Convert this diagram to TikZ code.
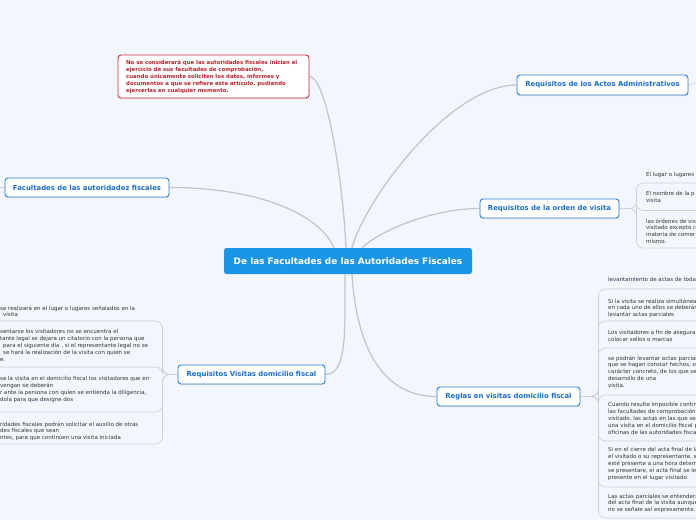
\documentclass[tikz,border=0pt]{standalone}
\usepackage{fontspec}
\setmainfont{DejaVu Sans}
\usetikzlibrary{shadows}
\definecolor{bgc}{HTML}{F4F6FD}
\definecolor{mainblue}{HTML}{1B96E6}
\definecolor{bblue}{HTML}{2A7FD6}
\definecolor{tblue}{HTML}{1A6ECC}
\definecolor{rred}{HTML}{C8323C}
\definecolor{tred}{HTML}{B8242C}
\definecolor{conn}{HTML}{C4C6CA}
\definecolor{subc}{HTML}{CDD1D9}
\definecolor{txt}{HTML}{333333}
\pgfdeclarelayer{back}
\pgfdeclarelayer{links}
\pgfsetlayers{back,links,main}
\tikzset{
  centerbox/.style={fill=mainblue, rounded corners=2.5pt, text=white, font=\fontsize{8.9}{10}\selectfont\bfseries, inner sep=0pt, minimum width=248pt, minimum height=26pt},
  mainbox/.style={draw=bblue, line width=0.9pt, fill=white, rounded corners=3pt, text=tblue, font=\fontsize{6.9}{8}\selectfont\bfseries, inner sep=0pt, drop shadow={shadow xshift=0.3pt, shadow yshift=-1pt, opacity=0.2}},
  redbox/.style={draw=rred, line width=0.9pt, fill=white, rounded corners=3pt, inner sep=0pt, drop shadow={shadow xshift=0.3pt, shadow yshift=-1pt, opacity=0.2}},
  redtext/.style={text=tred, font=\fontsize{5.4}{7}\selectfont\bfseries, align=left, inner sep=0pt},
  ctext/.style={text=txt, font=\fontsize{5.5}{6.8}\selectfont, align=left, inner sep=0pt},
  mainconn/.style={draw=conn, line width=1.3pt},
  subconn/.style={draw=subc, line width=0.7pt, rounded corners=7pt}
}
\begin{document}
\begin{tikzpicture}[x=1pt,y=-1pt]
\useasboundingbox (0,0) rectangle (696,520);
\begin{pgfonlayer}{back}
\fill[bgc] (0,0) rectangle (696,520);
\end{pgfonlayer}
\clip (0,0) rectangle (696,520);

% main nodes
\node[centerbox] (center) at (348,261) {De las Facultades de las Autoridades Fiscales};
\node[mainbox, minimum width=164pt, minimum height=19pt] (facultades) at (87,187.5) {Facultades de las autoridadez fiscales};
\node[mainbox, minimum width=171pt, minimum height=20pt] (actos) at (602.5,85) {Requisitos de los Actos Administrativos};
\node[mainbox, minimum width=139pt, minimum height=19pt] (orden) at (549.5,208.5) {Requisitos de la orden de visita};
\node[mainbox, minimum width=147pt, minimum height=19pt] (visitas) at (251.5,374.5) {Requisitos Visitas domicilio fiscal};
\node[mainbox, minimum width=143pt, minimum height=19pt] (reglas) at (508.5,396.5) {Reglas en visitas domicilio fiscal};
\node[redbox, minimum width=191pt, minimum height=43pt] (red) at (213.5,76.5) {};
\node[redtext, anchor=west] (redt) at (126,77) {No se considerará que las autoridades fiscales inician el\\ejercicio de sus facultades de comprobación,\\cuando únicamente soliciten los datos, informes y\\documentos a que se refiere este artículo, pudiendo\\ejercerlas en cualquier momento.};

% left children of "Requisitos Visitas domicilio fiscal"
\node[ctext, anchor=north west] (c1t) at (0,305.5) {se realizará en el lugar o lugares señalados en la\\\hspace*{3pt}visita};
\node[ctext, anchor=north west] (c2t) at (0,329.5) {sentarse los visitadores no se encuentra el\\tante legal se dejara un citatorio con la persona que\\\hspace*{3pt}para el siguiente día , si el representante legal no se\\\hspace*{3pt}se hará la realización de la visita con quien se\\e.};
\node[ctext, anchor=north west] (c3t) at (0,376.5) {se la visita en el domicilio fiscal los visitadores que en\\vengan se deberán\\r ante la persona con quien se entienda la diligencia,\\dola para que designe dos};
\node[ctext, anchor=north west] (c4t) at (0,421.5) {ridades fiscales podrán solicitar el auxilio de otras\\des fiscales que sean\\ntes, para que continúen una visita iniciada};
\coordinate (c1u) at (-10,321);
\coordinate (c2u) at (-10,367);
\coordinate (c3u) at (-10,412);
\coordinate (c4u) at (-10,444);

% children of "Requisitos de la orden de visita"
\node[ctext, anchor=north west] (o1t) at (646,172.5) {El lugar o lugares};
\node[ctext, anchor=north west] (o2t) at (646,191.5) {El nombre de la p\\visita};
\node[ctext, anchor=north west] (o3t) at (646,218.5) {las órdenes de vis\\visitado excepto c\\materia de comer\\mismo.};
\coordinate (o1u) at (710,183);
\coordinate (o2u) at (710,210.5);
\coordinate (o3u) at (710,248);

% children of "Reglas en visitas domicilio fiscal"
\node[ctext, anchor=north west] (r1t) at (608,277.5) {levantamiento de actas de toda};
\node[ctext, anchor=north west] (r2t) at (608,298.5) {Si la visita se realiza simultánea\\en cada uno de ellos se deberán\\levantar actas parciales};
\node[ctext, anchor=north west] (r3t) at (608,330.5) {Los visitadores a fin de asegurar\\colocar sellos o marcas};
\node[ctext, anchor=north west] (r4t) at (608,355.5) {se podrán levantar actas parcial\\que se hagan constar hechos, o\\carácter concreto, de los que se\\desarrollo de una\\visita.};
\node[ctext, anchor=north west] (r5t) at (608,402.5) {Cuando resulte imposible contin\\las facultades de comprobación\\visitado, las actas en las que se\\una visita en el domicilio fiscal p\\oficinas de las autoridades fiscal};
\node[ctext, anchor=north west] (r6t) at (608,447.5) {Si en el cierre del acta final de la\\el visitado o su representante, s\\esté presente a una hora determ\\se presentare, el acta final se le\\presente en el lugar visitado};
\node[ctext, anchor=north west] (r7t) at (608,493.5) {Las actas parciales se entenderá\\del acta final de la visita aunque\\no se señale así expresamente.};
\coordinate (r1u) at (710,289);
\coordinate (r2u) at (710,321);
\coordinate (r3u) at (710,348);
\coordinate (r4u) at (710,395);
\coordinate (r5u) at (710,441);
\coordinate (r6u) at (710,487);
\coordinate (r7u) at (710,518);

\coordinate (fl) at (-5,187.5);
\coordinate (ar) at (700,82);

\begin{pgfonlayer}{links}
% main connectors
\draw[mainconn] (facultades.east) .. controls +(90,0) and +(-14,-33) .. ([xshift=-14pt]center.north);
\draw[mainconn] (red.east) .. controls +(16,0) and +(-4,-78) .. ([xshift=-2pt]center.north);
\draw[mainconn] (actos.west) .. controls +(-67,0) and +(13,-48) .. ([xshift=4pt]center.north);
\draw[mainconn] (orden.west) .. controls +(-50,0) and +(15,-15) .. ([xshift=14pt]center.north);
\draw[mainconn] ([xshift=-3pt]center.south) .. controls +(0,55) and +(22,0) .. (visitas.east);
\draw[mainconn] ([xshift=4pt]center.south) .. controls +(5,80) and +(-50,0) .. (reglas.west);
\draw[subconn] (facultades.west) -- (fl);
\draw[subconn] (actos.east) .. controls +(5,0) and +(-4,0) .. (ar);
% sub connectors (connector + underline of each child)
\foreach \c in {c1u,c2u,c3u,c4u}
  \draw[subconn] (visitas.west) -- ++(-15,0) |- (\c);
\foreach \c in {o1u,o2u,o3u}
  \draw[subconn] (orden.east) -- ++(17,0) |- (\c);
\foreach \c in {r1u,r2u,r3u,r4u,r5u,r6u,r7u}
  \draw[subconn] (reglas.east) -- ++(18,0) |- (\c);
\end{pgfonlayer}
\end{tikzpicture}
\end{document}
